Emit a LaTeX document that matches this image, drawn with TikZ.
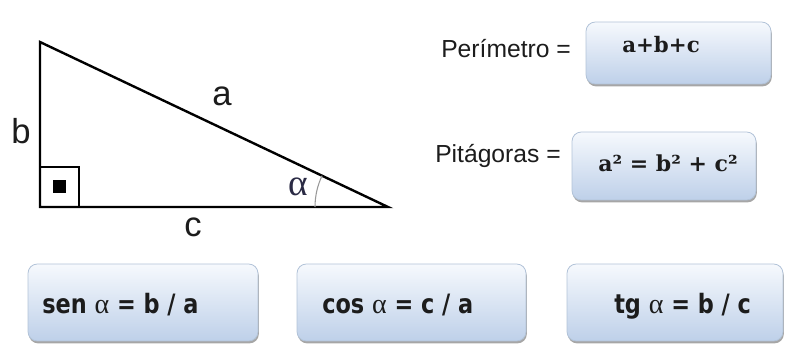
\documentclass[tikz,border=0pt]{standalone}
\usepackage{fontspec}
\setmainfont{Liberation Sans}
\newfontfamily\boxfont[FakeStretch=0.84]{DejaVu Sans}
\newfontfamily\serifbold{DejaVu Serif}
\newfontfamily\greekfont{Liberation Serif}
\usetikzlibrary{shadows}
\definecolor{boxtop}{HTML}{F6F9FD}
\definecolor{boxbot}{HTML}{BED0E9}
\definecolor{boxline}{HTML}{B2C3D8}
\definecolor{txt}{HTML}{1C1C1C}
\definecolor{alphacol}{HTML}{2A2A44}
\tikzset{
  fbox/.style={rounded corners=7pt, draw=boxline, line width=0.6pt,
    top color=boxtop, bottom color=boxbot, inner sep=0pt, outer sep=0pt,
    drop shadow={shadow xshift=0.6pt, shadow yshift=-1.8pt, opacity=0.35, fill=black}},
  side/.style={line width=1.8pt, line join=miter, line cap=rect},
  lbl/.style={font=\fontsize{26}{30}\selectfont, text=txt, inner sep=0pt},
  eqtext/.style={font=\fontsize{18.5}{22}\selectfont, text=txt, inner sep=0pt, anchor=base west},
  trig/.style={font=\boxfont\bfseries\fontsize{20}{24}\selectfont, text=txt, inner sep=0pt, anchor=base west},
  formula/.style={font=\serifbold\bfseries, text=txt, inner sep=0pt, anchor=base west},
}
\newcommand{\alp}{{\greekfont\mdseries\fontsize{21}{24}\selectfont α}}
\begin{document}
\begin{tikzpicture}[x=0.75pt, y=-0.75pt]
\useasboundingbox (0,0) rectangle (786,345);
% triangle
\coordinate (A) at (40,42);
\coordinate (C) at (40,207);
\coordinate (B) at (388,207);
\draw[side] (A) -- (C) -- (B) -- cycle;
\coordinate (S1) at (40,207);
\coordinate (S2) at (79,167);
\draw[line width=1.5pt] (S1) rectangle (S2);
\node[fill=black, minimum size=9.75pt, inner sep=0pt] (dot) at (59,187) {};
\coordinate (arcstart) at (315,207);
\draw[gray!80, line width=0.8pt] (arcstart) arc[start angle=180, end angle=205.4, radius=73];
\node[lbl] (la) at (222,96) {a};
\node[lbl] (lb) at (21,131) {b};
\node[lbl] (lc) at (193,227) {c};
\node[font=\greekfont\fontsize{28}{32}\selectfont, text=alphacol, inner sep=0pt] (lal) at (298,187) {α};
% right column
\node[fbox, minimum width=138.75pt, minimum height=46.5pt] (per) at (678.5,53) {};
\node[eqtext] (pertxt) at (441,58) {Perímetro =};
\node[formula, font=\serifbold\bfseries\fontsize{16}{19}\selectfont] (pertf) at (622,53) {a+b+c};
\node[fbox, minimum width=138pt, minimum height=51pt] (pit) at (664,166) {};
\node[eqtext] (pittxt) at (435,163) {Pitágoras =};
\node[formula, font=\serifbold\bfseries\fontsize{16.5}{20}\selectfont] (pitf) at (598,172) {a² = b² + c²};
% bottom row
\node[fbox, minimum width=172.5pt, minimum height=57.75pt] (sen) at (143,302.5) {};
\node[trig] (sent) at (42,314) {sen \alp{} = b / a};
\node[fbox, minimum width=171.75pt, minimum height=57.75pt] (cos) at (411.5,302.5) {};
\node[trig] (cost) at (322,314) {cos \alp{} = c / a};
\node[fbox, minimum width=162pt, minimum height=57.75pt] (tg) at (675,302.5) {};
\node[trig] (tgt) at (614,314) {tg \alp{} = b / c};
\end{tikzpicture}
\end{document}
